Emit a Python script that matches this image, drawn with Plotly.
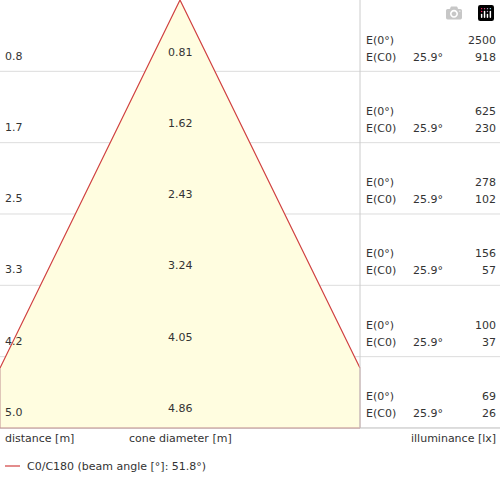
import plotly.graph_objects as go

distances = ["0.8", "1.7", "2.5", "3.3", "4.2", "5.0"]
diameters = ["0.81", "1.62", "2.43", "3.24", "4.05", "4.86"]
e0 = ["2500", "625", "278", "156", "100", "69"]
ec0 = ["918", "230", "102", "57", "37", "26"]
half_angle = "25.9°"
legend_label = "C0/C180 (beam angle [°]: 51.8°)"

H = 71.33
W = 360
cut = 368
fig = go.Figure()
fig.add_trace(go.Scatter(x=[180, 0, 0, W, W, 180], y=[0, cut, 6*H, 6*H, cut, 0],
    fill="toself", fillcolor="#FFFDE0", mode="lines", line=dict(color="rgba(0,0,0,0)"), hoverinfo="skip"))
fig.add_trace(go.Scatter(x=[0, 180, W], y=[cut, 0, cut], mode="lines",
    line=dict(color="#d04040", width=1.2), hoverinfo="skip"))
fig.add_trace(go.Scatter(x=[0, 0, W, W], y=[cut, 6*H, 6*H, cut], mode="lines",
    line=dict(color="#c09090", width=1), hoverinfo="skip"))
shapes = []
for i in range(1, 7):
    shapes.append(dict(type="line", x0=0, x1=500, y0=i*H, y1=i*H,
        line=dict(color="#dddddd" if i < 6 else "#bbbbbb", width=1), layer="below"))
shapes.append(dict(type="line", x0=W, x1=W, y0=0, y1=6*H, line=dict(color="#cccccc", width=1)))
shapes.append(dict(type="line", x0=5, x1=20, y0=466, y1=466, line=dict(color="#d04040", width=1.2)))
fig.update_layout(shapes=shapes)
ann = []
f = dict(family="DejaVu Sans", size=11, color="#333333")
def t(x, y, s, xa="left"):
    ann.append(dict(x=x, y=y, text=s, showarrow=False, xanchor=xa, yanchor="middle", font=f))
for i in range(6):
    top = i*H
    t(3, top+56, distances[i])
    t(180, top+52, diameters[i], "center")
    t(364, top+40, "E(0°)")
    t(364, top+57, "E(C0)")
    t(445, top+57, half_angle, "right")
    t(498, top+40, e0[i], "right")
    t(498, top+57, ec0[i], "right")
t(3, 438, "distance [m]")
t(180, 438, "cone diameter [m]", "center")
t(498, 438, "illuminance [lx]", "right")
t(25, 466, legend_label)
fig.update_layout(annotations=ann, width=500, height=500, margin=dict(l=0, r=0, t=0, b=0),
    plot_bgcolor="white", paper_bgcolor="white", showlegend=False,
    xaxis=dict(range=[0, 500], visible=False, fixedrange=True),
    yaxis=dict(range=[500, 0], visible=False, fixedrange=True))
fig.write_html("out.html", post_script="document.body.style.margin='0';document.body.style.padding='0';")
